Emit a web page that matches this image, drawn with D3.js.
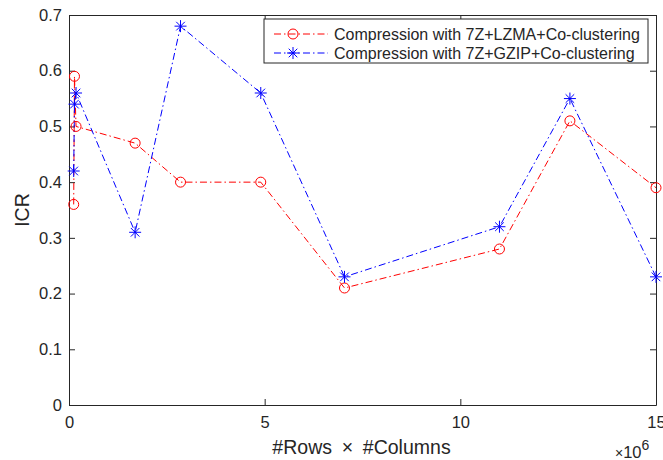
<!DOCTYPE html>
<html>
<head>
<meta charset="utf-8">
<script src="https://cdn.jsdelivr.net/npm/d3@7"></script>
<style>
  body { margin: 0; background: #fff; }
  text { font-family: "Liberation Sans", Arial, sans-serif; fill: #262626; }
</style>
</head>
<body>
<div id="chart"></div>
<script>
// ICR vs matrix size, two compression pipelines

var svgWidth = 663;
var svgHeight = 460;

var margin = { top: 15, right: 7, bottom: 55, left: 69 };

var width = svgWidth - margin.left - margin.right;
var height = svgHeight - margin.top - margin.bottom;

// data (x in rows*columns)
var sizes = [0.12e6, 0.14e6, 0.18e6, 1.69e6, 2.85e6, 4.9e6, 7.04e6, 11.0e6, 12.8e6, 15.0e6];
var lzmaIcr = [0.36, 0.59, 0.50, 0.47, 0.40, 0.40, 0.21, 0.28, 0.51, 0.39];
var gzipIcr = [0.42, 0.54, 0.56, 0.31, 0.68, 0.56, 0.23, 0.32, 0.55, 0.23];
var seriesNames = ["Compression with 7Z+LZMA+Co-clustering", "Compression with 7Z+GZIP+Co-clustering"];
var xTicks = [0, 5e6, 10e6, 15e6];
var yTicks = [0, 0.1, 0.2, 0.3, 0.4, 0.5, 0.6, 0.7];

var axisColor = "#262626";
var dash = "7,3,1.5,3";

var svg = d3.select("#chart")
    .append("svg")
    .attr("width", svgWidth)
    .attr("height", svgHeight);

var chartGroup = svg.append("g")
    .attr("transform", `translate(${margin.left}, ${margin.top})`);

var xScale = d3.scaleLinear().domain([0, 15e6]).range([0, width]);
var yScale = d3.scaleLinear().domain([0, 0.7]).range([height, 0]);

// axes: ticks inside, box on
var tickLen = 6;
var fmtX = d => d3.format("d")(d / 1e6);
var fmtY = d => d === 0 ? "0" : d3.format(".1f")(d);

function styleAxis(g) {
    g.selectAll("path").attr("stroke", axisColor);
    g.selectAll("line").attr("stroke", axisColor);
    g.selectAll("text").attr("fill", axisColor).style("font-size", "16.5px");
}

chartGroup.append("g")
    .attr("transform", `translate(0, ${height})`)
    .call(d3.axisBottom(xScale).tickValues(xTicks).tickFormat(fmtX).tickSizeInner(-tickLen).tickSizeOuter(0).tickPadding(11))
    .call(styleAxis);

chartGroup.append("g")
    .call(d3.axisTop(xScale).tickValues(xTicks).tickFormat("").tickSizeInner(-tickLen).tickSizeOuter(0))
    .call(styleAxis);

chartGroup.append("g")
    .call(d3.axisLeft(yScale).tickValues(yTicks).tickFormat(fmtY).tickSizeInner(-tickLen).tickSizeOuter(0).tickPadding(7))
    .call(styleAxis);

chartGroup.append("g")
    .attr("transform", `translate(${width}, 0)`)
    .call(d3.axisRight(yScale).tickValues(yTicks).tickFormat("").tickSizeInner(-tickLen).tickSizeOuter(0))
    .call(styleAxis);

// lines
var lzmaData = sizes.map((x, i) => [x, lzmaIcr[i]]);
var gzipData = sizes.map((x, i) => [x, gzipIcr[i]]);

var line = d3.line()
    .x(d => xScale(d[0]))
    .y(d => yScale(d[1]));

chartGroup.append("path")
    .datum(lzmaData)
    .attr("d", line)
    .attr("fill", "none")
    .attr("stroke", "#ff0000")
    .attr("stroke-width", 1)
    .attr("stroke-dasharray", dash);

chartGroup.append("path")
    .datum(gzipData)
    .attr("d", line)
    .attr("fill", "none")
    .attr("stroke", "#0000ff")
    .attr("stroke-width", 1)
    .attr("stroke-dasharray", dash);

// markers
function drawCircle(g, cx, cy) {
    g.append("circle")
        .attr("cx", cx).attr("cy", cy).attr("r", 5)
        .attr("fill", "none").attr("stroke", "#ff0000").attr("stroke-width", 1);
}

function drawStar(g, cx, cy) {
    var s = 6, d = 4.3;
    var p = `M${cx - s},${cy}L${cx + s},${cy}M${cx},${cy - s}L${cx},${cy + s}` +
        `M${cx - d},${cy - d}L${cx + d},${cy + d}M${cx - d},${cy + d}L${cx + d},${cy - d}`;
    g.append("path").attr("d", p)
        .attr("fill", "none").attr("stroke", "#0000ff").attr("stroke-width", 1);
}

lzmaData.forEach(d => drawCircle(chartGroup, xScale(d[0]), yScale(d[1])));
gzipData.forEach(d => drawStar(chartGroup, xScale(d[0]), yScale(d[1])));

// axis labels
chartGroup.append("text")
    .attr("transform", `translate(${-40.5}, ${height / 2}) rotate(-90)`)
    .attr("text-anchor", "middle")
    .style("font-size", "19.5px")
    .text("ICR");

chartGroup.append("text")
    .attr("x", width / 2 - 1)
    .attr("y", height + 49)
    .attr("text-anchor", "middle")
    .style("font-size", "19.5px")
    .text("#Rows\u2002\u00d7\u2002#Columns");

var expo = chartGroup.append("text")
    .attr("x", 615 - margin.left)
    .attr("y", height + 53)
    .style("font-size", "16.5px");
expo.append("tspan").text("\u00d7").style("font-size", "14px");
expo.append("tspan").text("10");
expo.append("tspan").attr("dy", -8).style("font-size", "14px").text("6");

// legend
var legend = chartGroup.append("g")
    .attr("transform", `translate(${264 - margin.left}, ${19 - margin.top})`);

legend.append("rect")
    .attr("width", 384).attr("height", 44)
    .attr("fill", "#fff").attr("stroke", axisColor).attr("stroke-width", 1);

seriesNames.forEach(function (name, i) {
    var ly = 15 + i * 19;
    legend.append("line")
        .attr("x1", 10).attr("x2", 64).attr("y1", ly).attr("y2", ly)
        .attr("stroke", i === 0 ? "#ff0000" : "#0000ff")
        .attr("stroke-width", 1)
        .attr("stroke-dasharray", dash);
    if (i === 0) drawCircle(legend, 29, ly);
    else drawStar(legend, 29, ly);
    legend.append("text")
        .attr("x", 70).attr("y", ly + 5.5)
        .style("font-size", "16px")
        .text(name);
});
</script>
</body>
</html>
